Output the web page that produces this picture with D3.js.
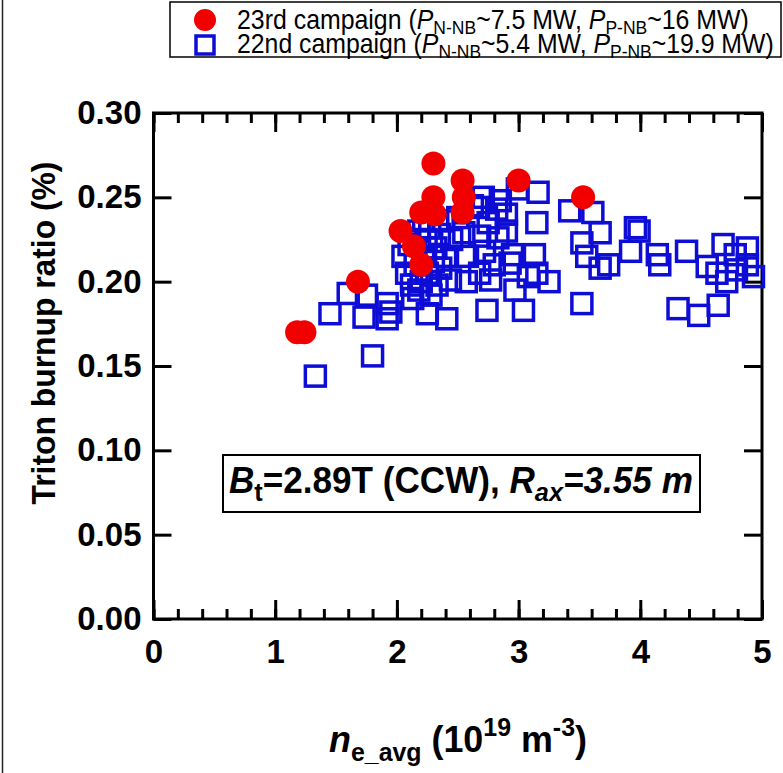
<!DOCTYPE html>
<html>
<head>
<meta charset="utf-8">
<script src="https://cdn.jsdelivr.net/npm/d3@7"></script>
<style>
  body { margin: 0; background: #fff; }
  text { font-family: "Liberation Sans", Arial, sans-serif; fill: #000; }
</style>
</head>
<body>
<div id="chart"></div>
<script>
// 23rd campaign (red dots): [n_e_avg, burnup ratio %]
const campaign23 = [
  [1.18, 0.170], [1.24, 0.170], [1.68, 0.200], [2.03, 0.230], [2.14, 0.221],
  [2.20, 0.210], [2.20, 0.241], [2.31, 0.240], [2.30, 0.250], [2.30, 0.270],
  [2.54, 0.260], [2.55, 0.250], [2.54, 0.241], [3.00, 0.260], [3.53, 0.250]
];

// 22nd campaign (blue open squares)
const campaign22 = [
  [1.33, 0.144], [1.45, 0.181], [1.60, 0.193], [1.73, 0.179], [1.75, 0.192],
  [1.80, 0.156], [1.92, 0.187], [1.92, 0.178], [1.95, 0.182],
  [2.05, 0.215], [2.08, 0.205], [2.10, 0.222], [2.12, 0.198], [2.15, 0.210],
  [2.18, 0.230], [2.18, 0.195], [2.20, 0.200], [2.22, 0.215], [2.24, 0.225],
  [2.25, 0.205], [2.27, 0.232], [2.28, 0.192], [2.30, 0.212], [2.32, 0.220],
  [2.33, 0.198], [2.35, 0.228], [2.36, 0.208], [2.38, 0.236], [2.40, 0.215],
  [2.25, 0.181], [2.41, 0.178], [2.22, 0.236], [2.13, 0.190],
  [2.44, 0.201], [2.45, 0.225], [2.50, 0.238], [2.55, 0.229], [2.57, 0.200],
  [2.58, 0.215], [2.62, 0.245], [2.67, 0.244], [2.68, 0.227], [2.68, 0.205],
  [2.71, 0.250], [2.72, 0.218], [2.74, 0.183], [2.75, 0.235], [2.77, 0.201],
  [2.80, 0.210], [2.82, 0.243], [2.83, 0.226], [2.85, 0.248], [2.90, 0.240],
  [2.90, 0.230], [2.93, 0.211], [2.95, 0.216], [2.97, 0.195], [2.99, 0.255],
  [3.04, 0.183], [3.08, 0.203], [3.13, 0.216], [3.15, 0.205], [3.15, 0.235],
  [3.16, 0.253], [3.25, 0.200],
  [3.42, 0.242], [3.52, 0.187], [3.52, 0.223], [3.56, 0.215], [3.61, 0.241],
  [3.67, 0.229], [3.67, 0.208], [3.74, 0.210], [3.92, 0.218], [3.96, 0.232],
  [3.99, 0.230], [4.14, 0.216], [4.16, 0.210], [4.31, 0.184], [4.38, 0.218],
  [4.48, 0.180], [4.55, 0.209], [4.63, 0.205], [4.64, 0.186], [4.68, 0.222],
  [4.71, 0.200], [4.78, 0.216], [4.79, 0.207], [4.88, 0.220], [4.88, 0.210],
  [4.93, 0.203]
];

const xMajorTicks = [0, 1, 2, 3, 4, 5];
const xMinorTicks = d3.range(0, 5.001, 0.2);
const yTicks = [0, 0.05, 0.10, 0.15, 0.20, 0.25, 0.30];

const width = 783, height = 773;
const red = "#f20000", blue = "#0d0dd6";

const svg = d3.select("#chart").append("svg")
  .attr("width", width)
  .attr("height", height);

svg.append("rect").attr("width", width).attr("height", height).attr("fill", "#fff");

// edge of the neighbouring figure
svg.append("line").attr("x1", 2.5).attr("x2", 2.5).attr("y1", 0).attr("y2", height)
  .attr("stroke", "#222").attr("stroke-width", 1.5);

const x = d3.scaleLinear().domain([0, 5]).range([153.5, 762]);
const y = d3.scaleLinear().domain([0, 0.30]).range([619, 113]);

// stretch a text element horizontally so it spans a given width
function fit(sel, w, x0) {
  const cur = sel.node().getComputedTextLength();
  const k = w / cur;
  sel.attr("transform", "translate(" + x0 + ",0) scale(" + k + ",1) translate(" + (-x0) + ",0)");
}

// append tspans with italics / sub / superscripts
function rich(sel, parts) {
  let cur = 0;
  parts.forEach(p => {
    const target = p.dy || 0;
    const ts = sel.append("tspan").text(p.t).attr("dy", target - cur);
    cur = target;
    if (p.i) ts.attr("font-style", "italic");
    if (p.s) ts.attr("font-size", p.s);
  });
}

function styleAxis(g) {
  g.select(".domain").remove();
  g.selectAll(".tick line").attr("stroke", "#000").attr("stroke-width", 3);
  g.selectAll(".tick text").attr("font-size", 33).attr("font-weight", "bold")
    .style("font-family", '"Liberation Sans", Arial, sans-serif');
}

// x axes (bottom with labels, top mirrored)
svg.append("g").attr("transform", "translate(0,619)")
  .call(d3.axisBottom(x).tickValues(xMinorTicks).tickSize(-10).tickFormat(""))
  .call(styleAxis);
svg.append("g").attr("transform", "translate(0,619)")
  .call(d3.axisBottom(x).tickValues(xMajorTicks).tickSize(-19).tickPadding(21).tickFormat(d3.format("d")))
  .call(styleAxis);
svg.append("g").attr("transform", "translate(0,113)")
  .call(d3.axisTop(x).tickValues(xMinorTicks).tickSize(-10).tickFormat(""))
  .call(styleAxis);
svg.append("g").attr("transform", "translate(0,113)")
  .call(d3.axisTop(x).tickValues(xMajorTicks).tickSize(-19).tickFormat(""))
  .call(styleAxis);

// y axes
svg.append("g").attr("transform", "translate(153.5,0)")
  .call(d3.axisLeft(y).tickValues(yTicks).tickSize(-18).tickPadding(12).tickFormat(d3.format(".2f")))
  .call(styleAxis);
svg.append("g").attr("transform", "translate(762,0)")
  .call(d3.axisRight(y).tickValues(yTicks).tickSize(-18).tickFormat(""))
  .call(styleAxis);

// frame
svg.append("rect")
  .attr("x", x(0)).attr("y", y(0.30))
  .attr("width", x(5) - x(0)).attr("height", y(0) - y(0.30))
  .attr("fill", "none").attr("stroke", "#000").attr("stroke-width", 3);

// squares
const sq = 20;
svg.append("g")
  .selectAll("rect")
  .data(campaign22)
  .enter()
  .append("rect")
  .attr("x", d => x(d[0]) - sq / 2)
  .attr("y", d => y(d[1]) - sq / 2)
  .attr("width", sq).attr("height", sq)
  .attr("fill", "none")
  .attr("stroke", blue)
  .attr("stroke-width", 3.5);

// dots
svg.append("g")
  .selectAll("circle")
  .data(campaign23)
  .enter()
  .append("circle")
  .attr("cx", d => x(d[0]))
  .attr("cy", d => y(d[1]))
  .attr("r", 12)
  .attr("fill", red);

// legend
const lg = svg.append("g");
lg.append("rect").attr("x", 170).attr("y", 2).attr("width", 611).attr("height", 55)
  .attr("fill", "#fff").attr("stroke", "#000").attr("stroke-width", 1.5);
lg.append("circle").attr("cx", 205).attr("cy", 20).attr("r", 11).attr("fill", red);
lg.append("rect").attr("x", 196).attr("y", 36).attr("width", 18).attr("height", 18)
  .attr("fill", "none").attr("stroke", blue).attr("stroke-width", 3.5);

const l1 = lg.append("text").attr("x", 237).attr("y", 29).attr("font-size", 27);
rich(l1, [
  { t: "23rd campaign (" }, { t: "P", i: 1 }, { t: "N-NB", dy: 5, s: 19 },
  { t: "~7.5 MW, " }, { t: "P", i: 1 }, { t: "P-NB", dy: 5, s: 19 }, { t: "~16 MW)" }
]);
fit(l1, 512, 237);
const l2 = lg.append("text").attr("x", 237).attr("y", 53).attr("font-size", 27);
rich(l2, [
  { t: "22nd campaign (" }, { t: "P", i: 1 }, { t: "N-NB", dy: 5, s: 19 },
  { t: "~5.4 MW, " }, { t: "P", i: 1 }, { t: "P-NB", dy: 5, s: 19 }, { t: "~19.9 MW)" }
]);
fit(l2, 537, 237);

// annotation box
svg.append("rect").attr("x", 223).attr("y", 455).attr("width", 477).attr("height", 57)
  .attr("fill", "#fff").attr("stroke", "#000").attr("stroke-width", 2);
const ann = svg.append("text").attr("x", 229).attr("y", 493)
  .attr("font-size", 36).attr("font-weight", "bold");
rich(ann, [
  { t: "B", i: 1 }, { t: "t", dy: 8, s: 26 }, { t: "=2.89T (CCW), " },
  { t: "R", i: 1 }, { t: "ax", i: 1, dy: 8, s: 26 }, { t: "=3.55 m", i: 1 }
]);
fit(ann, 464, 229);

// x title
const xt = svg.append("text").attr("x", 458).attr("y", 752)
  .attr("text-anchor", "middle").attr("font-size", 36).attr("font-weight", "bold");
rich(xt, [
  { t: "n", i: 1 }, { t: "e_avg", dy: 9, s: 25 }, { t: " (10" },
  { t: "19", dy: -16, s: 25 }, { t: " m" }, { t: "-3", dy: -16, s: 25 }, { t: ")" }
]);
fit(xt, 258, 458);

// y title
const yt = svg.append("text")
  .attr("transform", "translate(55,333) rotate(-90)")
  .attr("text-anchor", "middle").attr("font-size", 34).attr("font-weight", "bold")
  .text("Triton burnup ratio (%)");
const ytw = yt.node().getComputedTextLength();
yt.attr("transform", "translate(55,333) rotate(-90) scale(" + (343 / ytw) + ",1)");
</script>
</body>
</html>
